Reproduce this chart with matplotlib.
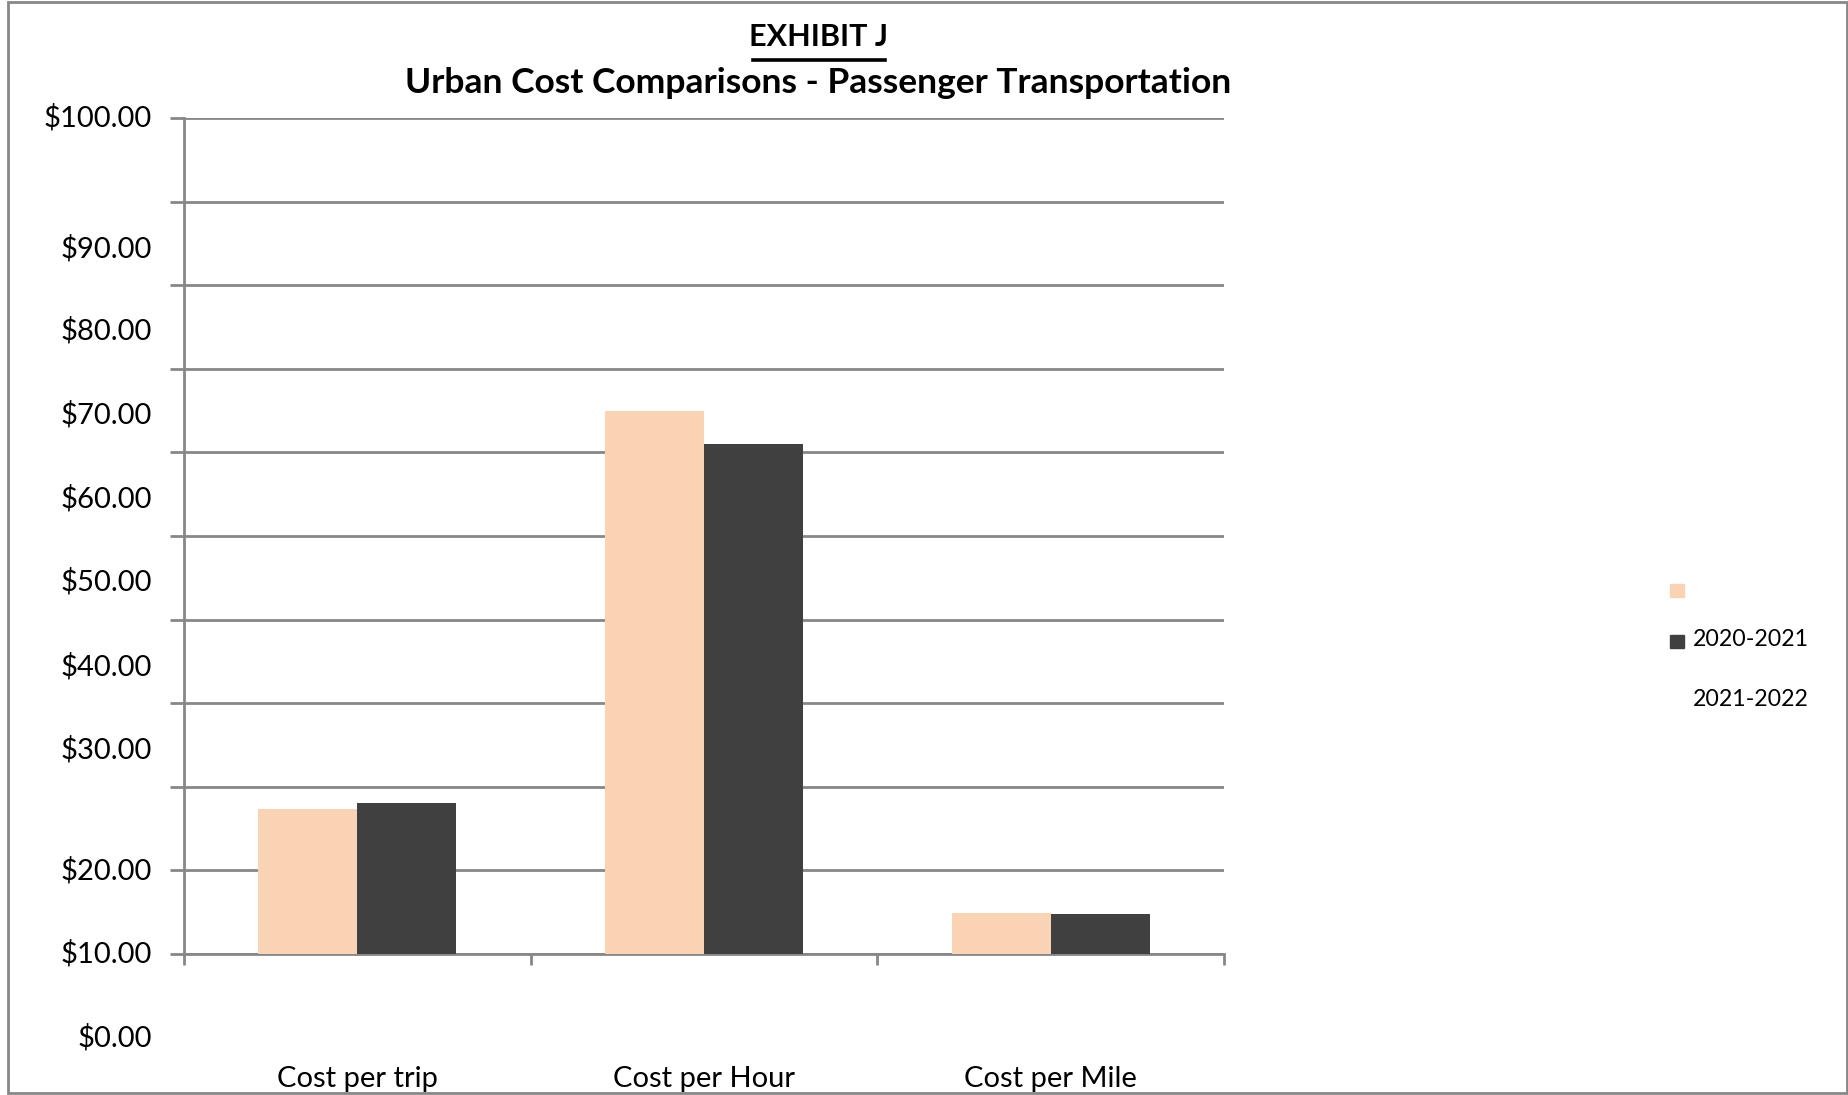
import matplotlib
matplotlib.use("Agg")
import matplotlib.pyplot as plt
from matplotlib.patches import Rectangle, Patch

plt.rcParams['font.family'] = ['Lato', 'DejaVu Sans']

categories = ["Cost per trip", "Cost per Hour", "Cost per Mile"]
series_names = ["2020-2021", "2021-2022"]
values_2020_2021 = [17.3, 64.9, 4.9]
values_2021_2022 = [18.1, 61.0, 4.8]
tick_labels = ["$100.00", "$90.00", "$80.00", "$70.00", "$60.00", "$50.00",
               "$40.00", "$30.00", "$20.00", "$10.00", "$0.00"]
# where the (misaligned) tick labels sit on the value axis
tick_label_pos = [100, 84.4, 74.5, 64.5, 54.5, 44.5, 34.4, 24.4, 10, 0, -10]

pink = "#FAD3B4"
dark = "#404040"
grid_gray = "#878787"

fig = plt.figure(figsize=(18.49, 10.95), dpi=100)
ax = fig.add_axes([0.0995, 0.1288, 0.5625, 0.7634])

x = range(len(categories))
w = 0.286
ax.bar([i - w / 2 for i in x], values_2020_2021, width=w, color=pink, zorder=3)
ax.bar([i + w / 2 for i in x], values_2021_2022, width=w, color=dark, zorder=3)

ax.set_xlim(-0.5, 2.5)
ax.set_ylim(0, 100)
ax.set_yticks(range(0, 101, 10))
ax.set_yticklabels([])
ax.tick_params(axis='y', direction='out', length=10, width=2, color=grid_gray)
ax.yaxis.grid(True, color=grid_gray, linewidth=2, zorder=0)

ax.set_xticks([-0.5, 0.5, 1.5, 2.5])
ax.set_xticklabels([])
ax.tick_params(axis='x', which='major', direction='out', length=8, width=2, color=grid_gray)
ax.set_xticks(list(x), minor=True)
ax.set_xticklabels(categories, minor=True, fontsize=21)
ax.tick_params(axis='x', which='minor', length=0, pad=81)

for s in ['top', 'right']:
    ax.spines[s].set_visible(False)
for s in ['left', 'bottom']:
    ax.spines[s].set_color(grid_gray)
    ax.spines[s].set_linewidth(2)

for lab, pos in zip(tick_labels, tick_label_pos):
    ax.text(-0.593, pos, lab, ha='right', va='center', fontsize=21,
            transform=ax.transData, clip_on=False)

fig.text(0.4425, 0.966, "EXHIBIT J", ha='center', va='center', fontsize=22,
         fontweight='bold')
fig.text(0.4425, 0.924, "Urban Cost Comparisons - Passenger Transportation",
         ha='center', va='center', fontsize=25.5, fontweight='bold')
# underline for the exhibit heading
fig.add_artist(plt.Line2D([0.4075, 0.4785], [0.9455, 0.9455], color='black',
                          linewidth=2.6, transform=fig.transFigure))

leg = fig.legend(handles=[Patch(color=pink), Patch(color=dark)], labels=["", ""],
                 loc='upper left', bbox_to_anchor=(0.8955, 0.479), frameon=False,
                 fontsize=11, handlelength=0.95, handleheight=0.95, labelspacing=2.35)
fig.text(0.9155, 0.416, series_names[0], ha='left', va='center', fontsize=16.7)
fig.text(0.9155, 0.361, series_names[1], ha='left', va='center', fontsize=16.7)

fig.add_artist(Rectangle((0.0043, 0.0018), 0.9946, 0.9962, fill=False,
                         edgecolor=grid_gray, linewidth=2,
                         transform=fig.transFigure))

fig.savefig("out.png", dpi=100)
